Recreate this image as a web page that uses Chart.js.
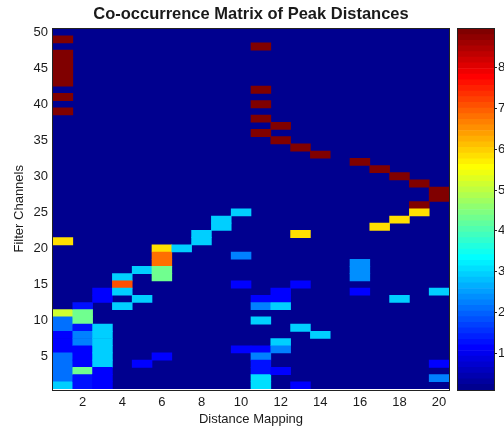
<!DOCTYPE html>
<html>
<head>
<meta charset="utf-8">
<title>Co-occurrence Matrix of Peak Distances</title>
<script src="https://cdn.jsdelivr.net/npm/chart.js@4.4.1/dist/chart.umd.min.js"></script>
<style>
    html, body { margin: 0; padding: 0; background: #fff; }
    #wrap { position: relative; width: 504px; height: 430px; }
    #heatmap { position: absolute; left: 0; top: 0; }
    #colorbar { position: absolute; left: 452px; top: 0; }
</style>
</head>
<body>
<div id="wrap">
    <canvas id="heatmap" width="504" height="430"></canvas>
    <canvas id="colorbar" width="52" height="430"></canvas>
</div>
<script>
// tick labels
const xTicks = [2, 4, 6, 8, 10, 12, 14, 16, 18, 20];
const yTicks = [5, 10, 15, 20, 25, 30, 35, 40, 45, 50];
const colorTicks = [1, 2, 3, 4, 5, 6, 7, 8];

// colour limits of the matrix
const colorMin = 0.1;
const colorMax = 8.95;

// distance mapping columns 1..20
const columns = [1, 2, 3, 4, 5, 6, 7, 8, 9, 10, 11, 12, 13, 14, 15, 16, 17, 18, 19, 20];

// filter channel (row) of every non-empty cell, one line per column
const rowsByCol = [
    [49, 47, 46, 45, 44, 43, 41, 39, 21, 11, 10, 9, 8, 7, 6, 5, 4, 3, 2, 1],
    [12, 11, 10, 9, 8, 7, 6, 5, 4, 3, 2, 1],
    [14, 13, 9, 8, 7, 6, 5, 4, 3, 2, 1],
    [16, 15, 14, 12],
    [17, 13, 4],
    [20, 19, 18, 17, 16, 5],
    [20],
    [22, 21],
    [24, 23],
    [25, 19, 15, 6],
    [48, 42, 40, 38, 36, 13, 12, 10, 6, 5, 4, 3, 2, 1],
    [37, 35, 14, 13, 12, 7, 6, 3],
    [34, 22, 15, 9, 1],
    [33, 8],
    [],
    [32, 18, 17, 16, 14],
    [31, 23],
    [30, 24, 13],
    [29, 26, 25],
    [28, 27, 14, 4, 2]
];

// value of those cells, same order
const valuesByCol = [
    [8.9, 8.9, 8.9, 8.9, 8.9, 8.9, 8.9, 8.9, 5.9, 5.1, 2.1, 2.1, 1.2, 1.2, 1.2, 2.1, 2.1, 2.1, 2.1, 3.0],
    [1.3, 4.3, 4.3, 1.3, 2.2, 2.2, 1.2, 1.2, 1.2, 4.3, 1.3, 1.3],
    [1.1, 1.1, 3.0, 3.0, 3.0, 3.0, 3.0, 3.0, 1.2, 1.2, 1.2],
    [3.0, 7.1, 3.0, 3.0],
    [3.0, 3.0, 1.2],
    [5.9, 6.8, 6.8, 4.3, 4.3, 1.2],
    [3.0],
    [3.0, 3.0],
    [3.0, 3.0],
    [3.0, 2.2, 1.2, 1.2],
    [8.9, 8.9, 8.9, 8.9, 8.9, 1.2, 2.2, 3.0, 1.2, 2.2, 1.3, 1.3, 3.1, 3.1],
    [8.9, 8.9, 1.2, 1.2, 3.0, 3.0, 2.2, 1.2],
    [8.9, 5.9, 1.2, 3.0, 1.2],
    [8.9, 3.0],
    [],
    [8.9, 2.4, 2.4, 2.4, 1.2],
    [8.9, 5.9],
    [8.9, 5.9, 3.0],
    [8.9, 8.9, 5.9],
    [8.9, 8.9, 3.0, 1.2, 2.3]
];

const TEXT_COLOR = '#1a1a1a';
const FONT_FAMILY = '"Liberation Sans", Arial, sans-serif';

// MATLAB jet(64), index 1..64
function jetColor(index) {
    const n = 16;
    const u = [];
    for (let i = 1; i <= n; i++) u.push(i / n);
    for (let i = 1; i < n; i++) u.push(1);
    for (let i = n; i >= 1; i--) u.push(i / n);
    const pick = k => (k >= 0 && k < u.length ? u[k] : 0);
    const r = Math.round(pick(index - 25) * 255);
    const g = Math.round(pick(index - 9) * 255);
    const b = Math.round(pick(index + 7) * 255);
    return `rgb(${r},${g},${b})`;
}

function colorForValue(v) {
    let idx = Math.floor((v - colorMin) / (colorMax - colorMin) * 64) + 1;
    idx = Math.max(1, Math.min(64, idx));
    return jetColor(idx);
}

// fills the plot area with the lowest colour and draws the axes box
const areaFrame = {
    id: 'areaFrame',
    beforeDatasetsDraw(chart, args, opts) {
        if (!opts.fill) return;
        const { ctx, chartArea: a } = chart;
        ctx.save();
        ctx.fillStyle = opts.fill;
        ctx.fillRect(a.left, a.top, a.width, a.height);
        ctx.restore();
    },
    afterDraw(chart, args, opts) {
        const { ctx, chartArea: a } = chart;
        ctx.save();
        ctx.strokeStyle = opts.stroke || '#222';
        ctx.lineWidth = 1;
        ctx.strokeRect(Math.round(a.left) - 0.5, Math.round(a.top) - 0.5,
            Math.round(a.width) + 1, Math.round(a.height) + 1);
        ctx.restore();
    }
};

class PeakDistanceChart {
    constructor() {
        this.heatmap = null;
        this.colorbar = null;
        this.init();
    }

    init() {
        Chart.defaults.font.family = FONT_FAMILY;
        Chart.defaults.color = TEXT_COLOR;
        this.initHeatmap();
        this.initColorbar();
    }

    buildCells() {
        const cells = [];
        columns.forEach((col, i) => {
            rowsByCol[i].forEach((row, j) => {
                cells.push({ x: col, y: [row - 0.5, row + 0.5], v: valuesByCol[i][j] });
            });
        });
        return cells;
    }

    initHeatmap() {
        const ctx = document.getElementById('heatmap');
        this.heatmap = new Chart(ctx, {
            type: 'bar',
            data: {
                datasets: [{
                    data: this.buildCells(),
                    backgroundColor: c => colorForValue(c.raw.v),
                    borderWidth: 0,
                    categoryPercentage: 1,
                    barPercentage: 1
                }]
            },
            options: {
                responsive: false,
                animation: false,
                layout: { padding: { left: 0, right: 55, top: 0, bottom: 0 } },
                plugins: {
                    legend: { display: false },
                    tooltip: { enabled: false },
                    title: {
                        display: true,
                        text: 'Co-occurrence Matrix of Peak Distances',
                        fullSize: false,
                        color: TEXT_COLOR,
                        font: { size: 16.5, weight: 'bold' },
                        padding: { top: 4.5, bottom: 4.2 }
                    },
                    areaFrame: { fill: jetColor(1), stroke: '#222' }
                },
                scales: {
                    x: {
                        type: 'linear',
                        min: 0.5,
                        max: 20.5,
                        offset: false,
                        afterBuildTicks: s => { s.ticks = xTicks.map(v => ({ value: v })); },
                        afterFit: s => { s.height = 41; },
                        grid: { display: false, drawTicks: false },
                        border: { display: false },
                        ticks: { padding: 6, autoSkip: false, maxRotation: 0, font: { size: 13 } },
                        title: {
                            display: true,
                            text: 'Distance Mapping',
                            font: { size: 13 },
                            padding: { top: 0, bottom: 3 }
                        }
                    },
                    y: {
                        type: 'linear',
                        min: 0.5,
                        max: 50.5,
                        beginAtZero: false,
                        afterBuildTicks: s => { s.ticks = yTicks.map(v => ({ value: v })); },
                        afterFit: s => { s.width = 53; },
                        grid: { display: false, drawTicks: false },
                        border: { display: false },
                        ticks: { padding: 5, autoSkip: false, font: { size: 13 } },
                        title: {
                            display: true,
                            text: 'Filter Channels',
                            font: { size: 13 },
                            padding: { top: 12, bottom: 0 }
                        }
                    }
                }
            },
            plugins: [areaFrame]
        });
    }

    buildBands() {
        const step = (colorMax - colorMin) / 64;
        const bands = [];
        for (let k = 1; k <= 64; k++) {
            bands.push({
                data: [[colorMin + (k - 1) * step, colorMin + k * step]],
                backgroundColor: jetColor(k),
                borderWidth: 0,
                grouped: false,
                categoryPercentage: 1,
                barPercentage: 1
            });
        }
        return bands;
    }

    initColorbar() {
        const ctx = document.getElementById('colorbar');
        this.colorbar = new Chart(ctx, {
            type: 'bar',
            data: { labels: [''], datasets: this.buildBands() },
            options: {
                responsive: false,
                animation: false,
                layout: { padding: { left: 6, right: 0, top: 29, bottom: 40 } },
                plugins: {
                    legend: { display: false },
                    tooltip: { enabled: false },
                    areaFrame: { stroke: '#222' }
                },
                scales: {
                    x: { display: false },
                    y: {
                        position: 'right',
                        min: colorMin,
                        max: colorMax,
                        afterBuildTicks: s => { s.ticks = colorTicks.map(v => ({ value: v })); },
                        afterFit: s => { s.width = 10; },
                        grid: { drawOnChartArea: false, tickLength: 3, color: '#222' },
                        border: { display: false },
                        ticks: { padding: 1, autoSkip: false, font: { size: 13 } }
                    }
                }
            },
            plugins: [areaFrame]
        });
    }
}

document.addEventListener('DOMContentLoaded', () => {
    new PeakDistanceChart();
});
</script>
</body>
</html>
